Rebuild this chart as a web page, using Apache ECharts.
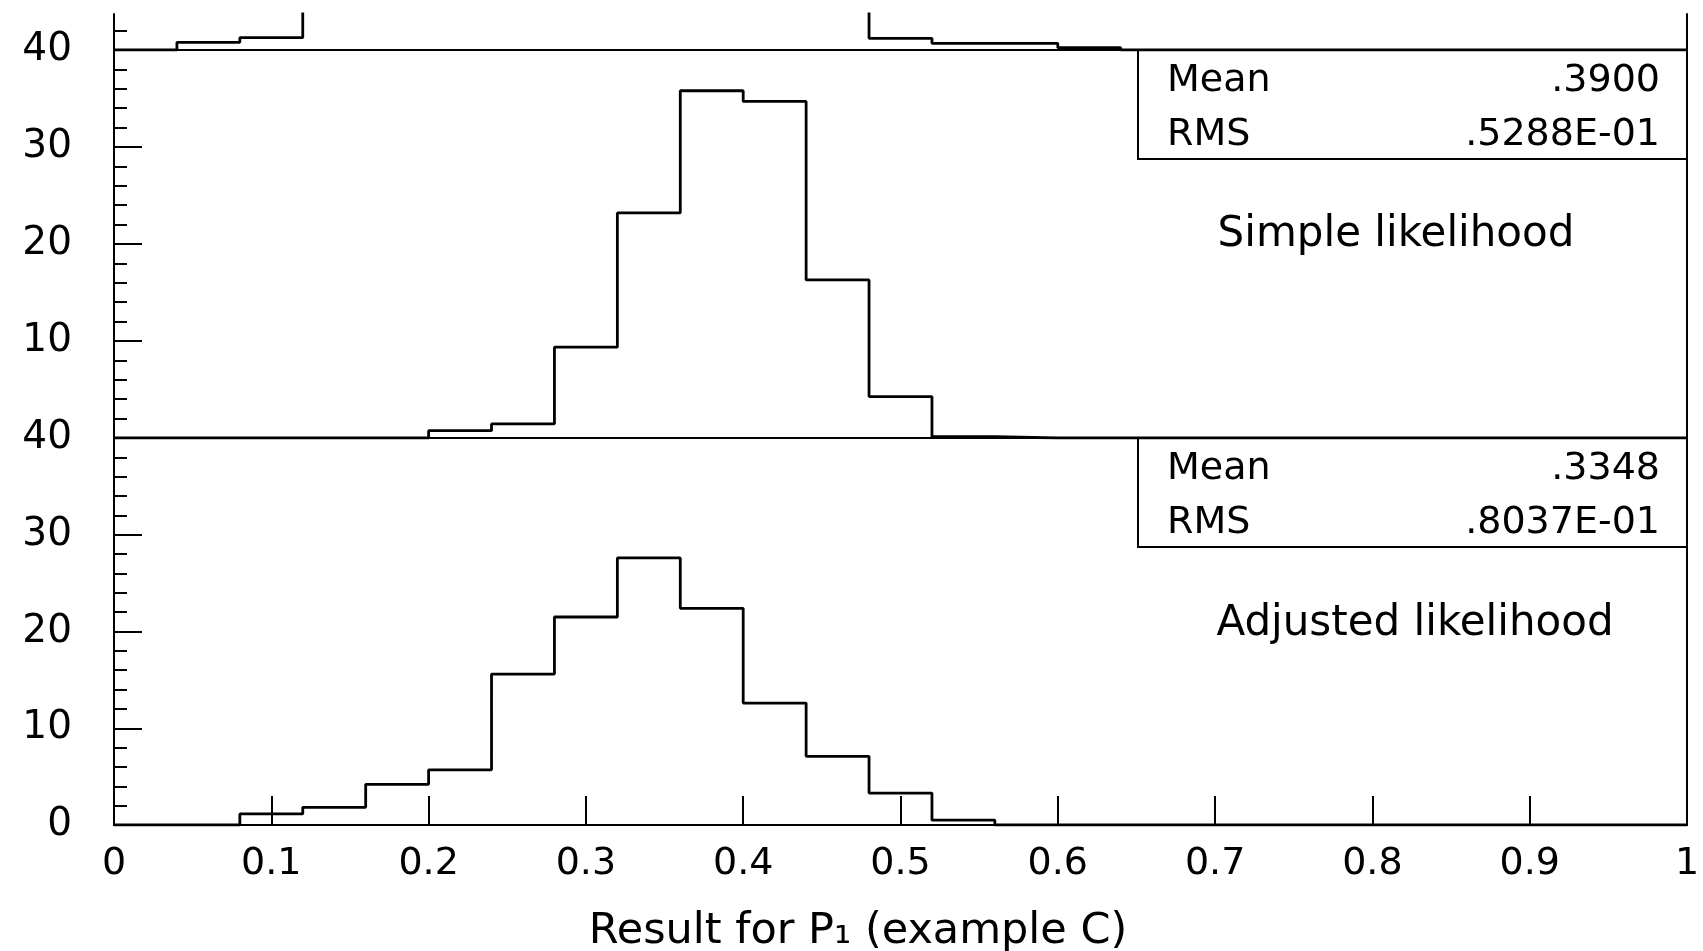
<!DOCTYPE html>
<html>
<head>
<meta charset="utf-8">
<script src="https://cdn.jsdelivr.net/npm/echarts@6/dist/echarts.min.js"></script>
<style>
  html, body { margin: 0; padding: 0; background: #fff; }
  #chart { width: 1703px; height: 951px; }
</style>
</head>
<body>
<div id="chart"></div>
<script>
// ---- data ----
const BIN_EDGES = [0, 0.04, 0.08, 0.12, 0.16, 0.20, 0.24, 0.28, 0.32, 0.36, 0.40, 0.44, 0.48,
                   0.52, 0.56, 0.60, 0.64, 0.68, 0.72, 0.76, 0.80, 0.84, 0.88, 0.92, 0.96, 1.00];
// top panel is cut off by the image edge: bins 0.12-0.48 run above the visible part
const OFF_TOP = 6;
const TOP_PANEL = [0, 0.79, 1.27, OFF_TOP, OFF_TOP, OFF_TOP, OFF_TOP, OFF_TOP, OFF_TOP, OFF_TOP, OFF_TOP, OFF_TOP,
                   1.2, 0.69, 0.69, 0.24, 0, 0, 0, 0, 0, 0, 0, 0, 0];
const SIMPLE = [0, 0, 0, 0, 0, 0.76, 1.45, 9.36, 23.2, 35.8, 34.7, 16.3, 4.27, 0.14,
                0, 0, 0, 0, 0, 0, 0, 0, 0, 0, 0];
const ADJUSTED = [0, 0, 1.14, 1.83, 4.2, 5.7, 15.6, 21.5, 27.6, 22.4, 12.6, 7.1, 3.3, 0.5,
                  0, 0, 0, 0, 0, 0, 0, 0, 0, 0, 0];
const SIMPLE_STATS = [['Mean', '.3900'], ['RMS', '.5288E-01']];
const ADJUSTED_STATS = [['Mean', '.3348'], ['RMS', '.8037E-01']];
const SIMPLE_LABEL = 'Simple likelihood';
const ADJUSTED_LABEL = 'Adjusted likelihood';
const X_TITLE = 'Result for P\u2081 (example C)';

// ---- layout ----
const FONT = 'DejaVu Sans';
const L = 114, R = 16;
const TOP_G = { top: 14, height: 36 };
const MID_G = { top: 50, height: 388 };
const BOT_G = { top: 438, height: 387 };

function toSteps(values) {
  return values.map((v, i) => [BIN_EDGES[i], v]).concat([[BIN_EDGES[values.length], 0]]);
}

const chart = echarts.init(document.getElementById('chart'), null, { renderer: 'canvas' });

const hiddenX = (gi) => ({
  type: 'value', gridIndex: gi, min: 0, max: 1, interval: 0.1,
  axisLine: { show: false }, axisTick: { show: false }, axisLabel: { show: false }, splitLine: { show: false }
});

const mainY = (gi, showMin) => ({
  type: 'value', gridIndex: gi, min: 0, max: 40, interval: 10,
  axisLine: { show: true, lineStyle: { color: '#000', width: 2 } },
  axisTick: { show: true, inside: true, length: 28, lineStyle: { color: '#000', width: 2 } },
  minorTick: { show: true, splitNumber: 5, length: 13, lineStyle: { color: '#000', width: 2 } },
  axisLabel: { show: true, margin: 42, showMinLabel: showMin, color: '#000', fontFamily: FONT, fontSize: 39 },
  splitLine: { show: false }
});

const histSeries = (gi, values) => ({
  type: 'line', xAxisIndex: gi, yAxisIndex: gi, step: 'end', symbol: 'none',
  clip: true, animation: false,
  lineStyle: { color: '#000', width: 2.8 },
  data: toSteps(values)
});

function statsBox(top, stats, label, labelX, labelY) {
  const els = [{
    type: 'rect', shape: { x: 1138, y: top, width: 1687 - 1138, height: 109 },
    style: { fill: null, stroke: '#000', lineWidth: 2 }
  }];
  stats.forEach((row, i) => {
    const y = top + 31 + i * 54.5;
    els.push({ type: 'text', x: 1167, y: y, style: { text: row[0], font: '38px "' + FONT + '"', fill: '#000', align: 'left', verticalAlign: 'middle' } });
    els.push({ type: 'text', x: 1660, y: y, style: { text: row[1], font: '38px "' + FONT + '"', fill: '#000', align: 'right', verticalAlign: 'middle' } });
  });
  els.push({ type: 'text', x: labelX, y: labelY, style: { text: label, font: '42px "' + FONT + '"', fill: '#000', align: 'center', verticalAlign: 'middle' } });
  return els;
}

const option = {
  backgroundColor: '#fff',
  animation: false,
  grid: [
    { left: L, right: R, top: TOP_G.top, height: TOP_G.height, show: false },
    { left: L, right: R, top: MID_G.top, height: MID_G.height, show: true, borderColor: '#000', borderWidth: 2, backgroundColor: 'transparent' },
    { left: L, right: R, top: BOT_G.top, height: BOT_G.height, show: true, borderColor: '#000', borderWidth: 2, backgroundColor: 'transparent' }
  ],
  xAxis: [
    hiddenX(0),
    hiddenX(1),
    {
      type: 'value', gridIndex: 2, min: 0, max: 1, interval: 0.1,
      axisLine: { show: true, lineStyle: { color: '#000', width: 2 } },
      axisTick: { show: true, inside: true, length: 29, lineStyle: { color: '#000', width: 2 } },
      axisLabel: { show: true, margin: 20, color: '#000', fontFamily: FONT, fontSize: 38 },
      splitLine: { show: false }
    }
  ],
  yAxis: [
    {
      type: 'value', gridIndex: 0, min: 0, max: 3.7,
      axisLine: { show: true, lineStyle: { color: '#000', width: 2 } },
      axisTick: { show: true, inside: true, length: 13, customValues: [2], lineStyle: { color: '#000', width: 2 } },
      axisLabel: { show: false }, splitLine: { show: false }
    },
    mainY(1, false),
    mainY(2, true),
    {
      type: 'value', gridIndex: 0, min: 0, max: 3.7, position: 'right',
      axisLine: { show: true, onZero: false, lineStyle: { color: '#000', width: 2 } },
      axisTick: { show: false }, axisLabel: { show: false }, splitLine: { show: false }
    }
  ],
  series: [
    histSeries(0, TOP_PANEL),
    histSeries(1, SIMPLE),
    histSeries(2, ADJUSTED)
  ],
  graphic: {
    elements: [].concat(
      statsBox(MID_G.top, SIMPLE_STATS, SIMPLE_LABEL, 1396, 235),
      statsBox(BOT_G.top, ADJUSTED_STATS, ADJUSTED_LABEL, 1415, 624),
      [{ type: 'text', x: 858, y: 932, style: { text: X_TITLE, font: '43px "' + FONT + '"', fill: '#000', align: 'center', verticalAlign: 'middle' } }]
    )
  }
};

chart.setOption(option);
</script>
</body>
</html>
